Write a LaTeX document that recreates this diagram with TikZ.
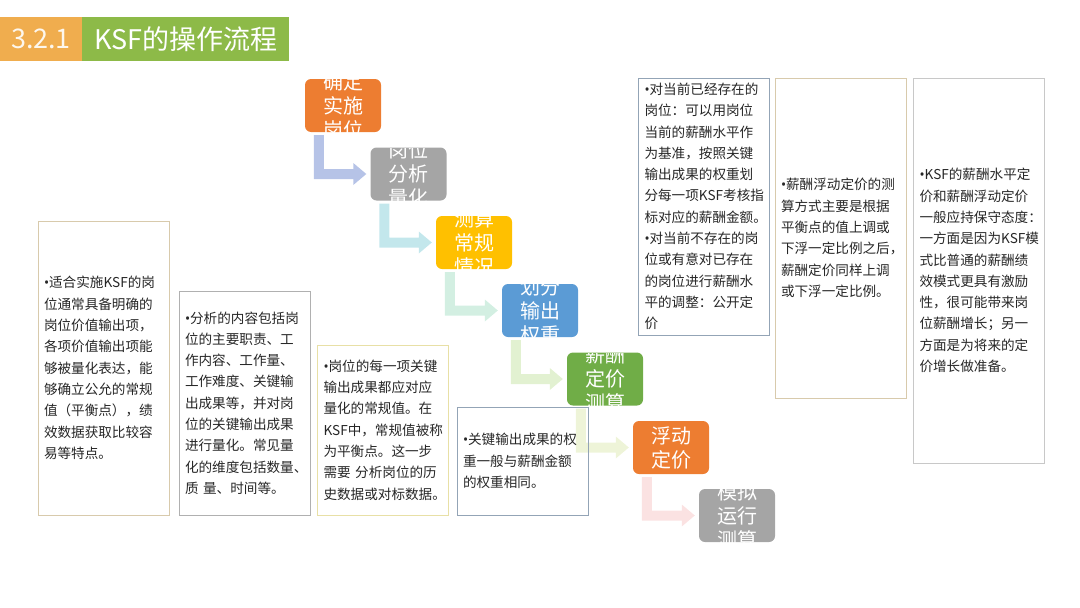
\documentclass[tikz,border=0pt]{standalone}
\usepackage{fontspec}
\setmainfont{Noto Sans CJK SC}
\newfontfamily\bulletfont{Noto Sans}
\usepackage{xcolor}
\usetikzlibrary{calc}

\definecolor{ttlOrange}{HTML}{F0AD4E}
\definecolor{ttlGreen}{HTML}{8DBA48}
\definecolor{stepOrange}{HTML}{ED7D31}
\definecolor{stepGray}{HTML}{A5A5A5}
\definecolor{stepGold}{HTML}{FFC000}
\definecolor{stepBlue}{HTML}{5B9BD5}
\definecolor{stepGreen}{HTML}{70AD47}
\definecolor{arrLavender}{HTML}{B6C3E7}
\definecolor{arrCyan}{HTML}{C3E7EC}
\definecolor{arrMint}{HTML}{D3EFE2}
\definecolor{arrLime}{HTML}{E2F1D1}
\definecolor{arrPale}{HTML}{EEF4D8}
\definecolor{arrPink}{HTML}{FBE2E2}
\definecolor{bdTan}{HTML}{D8CAAC}
\definecolor{bdGray}{HTML}{B0B0B0}
\definecolor{bdYellow}{HTML}{E8E0A6}
\definecolor{bdSteel}{HTML}{93A4B6}
\definecolor{bdLight}{HTML}{C8C8C8}
\definecolor{bodyText}{HTML}{262626}

% narrow bullet
\newcommand{\bul}{{\bulletfont •}}
% bent arrow from one step box to the next
\newcommand{\bentarrow}[3]{%
\fill[#3] ($(#1.south west)+(9,3)$) -- ($(#1.south west)+(19,3)$)
  -- ($(#1.south west |- #2.west)+(19,-5)$) -- ($(#2.west)+(-17,-5)$)
  -- ($(#2.west)+(-17,-11)$) -- ($(#2.west)+(-4,0)$)
  -- ($(#2.west)+(-17,11)$) -- ($(#2.west)+(-17,5)$)
  -- ($(#1.south west |- #2.west)+(9,5)$) -- cycle;}

\begin{document}
\begin{tikzpicture}[x=1pt,y=-1pt,
  stepbox/.style={rounded corners=6pt,minimum width=76pt,minimum height=53pt,inner sep=0pt},
  steptext/.style={text=white,font=\fontsize{20}{24}\selectfont,align=center,inner sep=0pt},
  infobox/.style={draw,line width=0.9pt,text=bodyText,font=\fontsize{13.6}{21.3}\selectfont,
    text width=119pt,align=left,inner sep=0pt,minimum width=131pt}]
\useasboundingbox (0,0) rectangle (1080,608);
%
\node[fill=ttlOrange,text=white!90!ttlOrange,font=\fontsize{27}{30}\selectfont,
  minimum width=82pt,minimum height=44pt,inner sep=0pt] (secnum) at (41,39) {3.2.1};
\node[fill=ttlGreen,text=white,font=\fontsize{27}{30}\selectfont,anchor=west,
  minimum width=207pt,minimum height=44pt,inner sep=0pt] (sectitle) at (secnum.east) {KSF的操作流程};
%
\node[stepbox,fill=stepOrange,path picture={\node[steptext] at (path picture bounding box.center) {确定\\实施\\岗位};}] (s1) at (343,105.5) {};
\node[stepbox,fill=stepGray,path picture={\node[steptext] at (path picture bounding box.center) {岗位\\分析\\量化};}] (s2) at (408.5,174) {};
\node[stepbox,fill=stepGold,path picture={\node[steptext] at (path picture bounding box.center) {测算\\常规\\情况};}] (s3) at (474,242.5) {};
\node[stepbox,fill=stepBlue,path picture={\node[steptext] at (path picture bounding box.center) {划分\\输出\\权重};}] (s4) at (540,310.5) {};
\node[stepbox,fill=stepGreen,path picture={\node[steptext] at (path picture bounding box.center) {薪酬\\定价\\测算};}] (s5) at (605,379) {};
\node[stepbox,fill=stepOrange,path picture={\node[steptext] at (path picture bounding box.center) {浮动\\定价};}] (s6) at (671,447.5) {};
\node[stepbox,fill=stepGray,path picture={\node[steptext] at (path picture bounding box.center) {模拟\\运行\\测算};}] (s7) at (737,515.5) {};
%
\bentarrow{s1}{s2}{arrLavender}
\bentarrow{s2}{s3}{arrCyan}
\bentarrow{s3}{s4}{arrMint}
\bentarrow{s4}{s5}{arrLime}
\bentarrow{s5}{s6}{arrPale}
\bentarrow{s6}{s7}{arrPink}
%
\node[infobox,draw=bdTan,minimum height=294pt] (noteA) at (103.5,368) {\bul 适合实施KSF的岗\\位通常具备明确的\\岗位价值输出项，\\各项价值输出项能\\够被量化表达，能\\够确立公允的常规\\值（平衡点），绩\\效数据获取比较容\\易等特点。};
\node[infobox,draw=bdGray,minimum height=224pt] (noteB) at (244.5,403) {\bul 分析的内容包括岗\\位的主要职责、工\\作内容、工作量、\\工作难度、关键输\\出成果等，并对岗\\位的关键输出成果\\进行量化。常见量\\化的维度包括数量、\\质 量、时间等。};
\node[infobox,draw=bdYellow,minimum height=170pt] (noteC) at (383,430) {\bul 岗位的每一项关键\\输出成果都应对应\\量化的常规值。在\\KSF中，常规值被称\\为平衡点。这一步\\需要~分析岗位的历\\史数据或对标数据。};
\node[infobox,draw=bdSteel,minimum height=108pt] (noteD) at (522.5,461) {\bul 关键输出成果的权\\重一般与薪酬金额\\的权重相同。};
\node[infobox,draw=bdSteel,minimum height=257pt] (noteE) at (704,206.5) {\bul 对当前已经存在的\\岗位：可以用岗位\\当前的薪酬水平作\\为基准，按照关键\\输出成果的权重划\\分每一项KSF考核指\\标对应的薪酬金额。\\\bul 对当前不存在的岗\\位或有意对已存在\\的岗位进行薪酬水\\平的调整：公开定\\价};
\node[infobox,draw=bdTan,minimum height=320pt] (noteF) at (840.5,238) {\bul 薪酬浮动定价的测\\算方式主要是根据\\平衡点的值上调或\\下浮一定比例之后，\\薪酬定价同样上调\\或下浮一定比例。};
\node[infobox,draw=bdLight,minimum height=385pt] (noteG) at (979,270.5) {\bul KSF的薪酬水平定\\价和薪酬浮动定价\\一般应持保守态度：\\一方面是因为KSF模\\式比普通的薪酬绩\\效模式更具有激励\\性，很可能带来岗\\位薪酬增长；另一\\方面是为将来的定\\价增长做准备。};
\end{tikzpicture}
\end{document}
